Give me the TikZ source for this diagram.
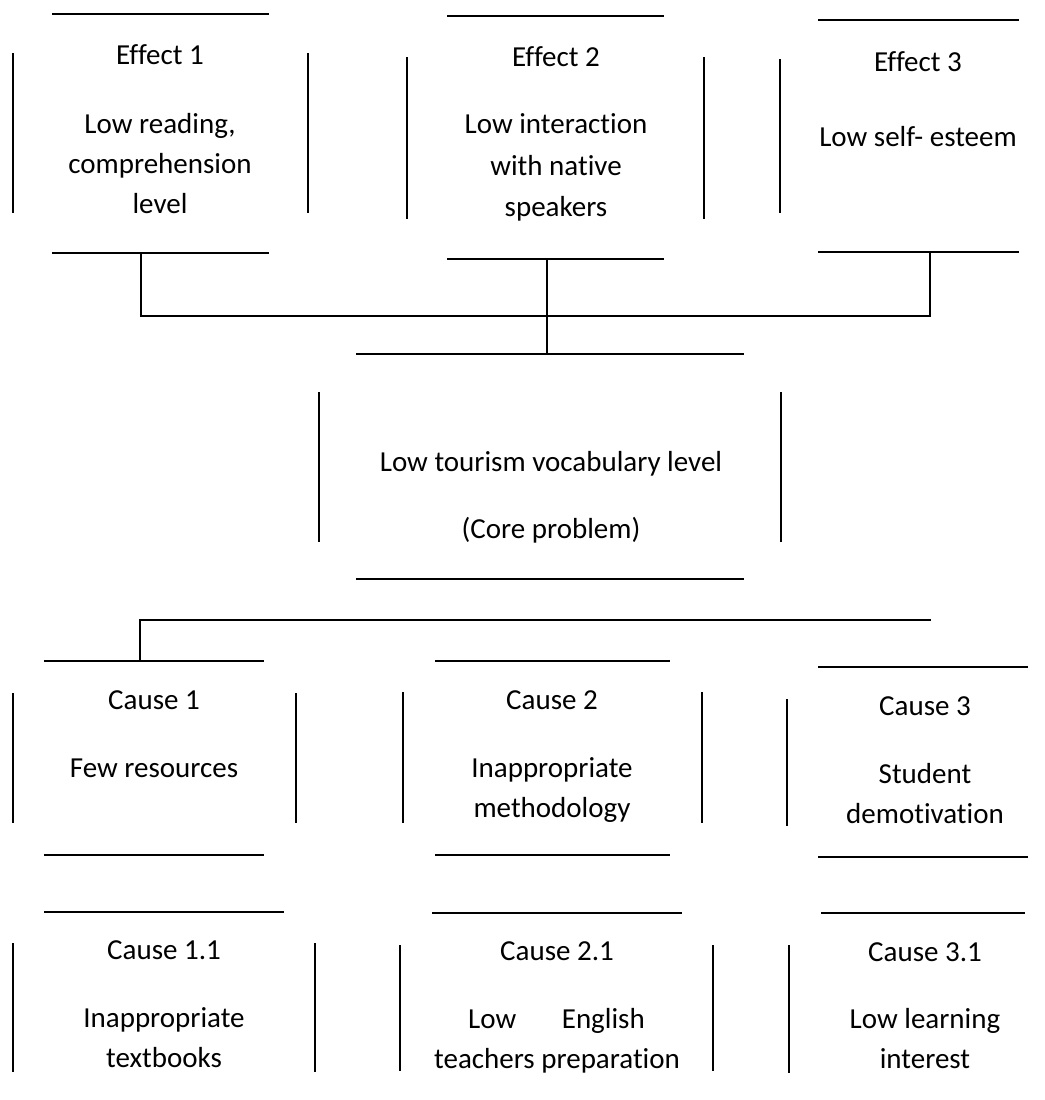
\documentclass[tikz,border=0pt]{standalone}
\usepackage{fontspec}
\setmainfont{Carlito}[Ligatures={NoCommon,NoContextual}]
\tikzset{
  edge/.style={line width=1.6pt, black},
  link/.style={line width=2.2pt, black},
  txt/.style={inner sep=0pt, anchor=base, font=\fontsize{29}{40}\selectfont}
}
\begin{document}
\begin{tikzpicture}[x=1pt,y=-1pt]
\useasboundingbox (0,0) rectangle (1044,1100);

% ---------- Effect 1 ----------
\draw[edge] (52,14) -- (269,14);
\draw[edge] (13,53) -- (13,213);
\draw[edge] (308,53) -- (308,213);
\draw[edge] (52,253) -- (269,253);
\node[txt] (e1a) at (160,64) {Effect 1};
\node[txt] (e1b) at (160,133) {Low reading,};
\node[txt] (e1c) at (160,173) {comprehension};
\node[txt] (e1d) at (160,213) {level};
\coordinate (e1bot) at (141,253);

% ---------- Effect 2 ----------
\draw[edge] (447,16) -- (664,16);
\draw[edge] (407,57) -- (407,219);
\draw[edge] (704,57) -- (704,219);
\draw[edge] (447,259) -- (664,259);
\node[txt] (e2a) at (556,66) {Effect 2};
\node[txt] (e2b) at (556,133) {Low interaction};
\node[txt] (e2c) at (556,175) {with native};
\node[txt] (e2d) at (556,216) {speakers};
\coordinate (e2bot) at (547,259);

% ---------- Effect 3 ----------
\draw[edge] (818,20) -- (1019,20);
\draw[edge] (780,59) -- (780,213);
\draw[edge] (818,252) -- (1019,252);
\node[txt] (e3a) at (918,71) {Effect 3};
\node[txt] (e3b) at (918,146) {Low self- esteem};
\coordinate (e3bot) at (930,252);

% ---------- Core problem ----------
\draw[edge] (356,354) -- (744,354);
\draw[edge] (319,392) -- (319,542);
\draw[edge] (781,392) -- (781,542);
\draw[edge] (356,579) -- (744,579);
\node[txt] (corea) at (551,471) {Low tourism vocabulary level};
\node[txt] (coreb) at (551,538) {(Core problem)};
\coordinate (coretop) at (547,354);

% ---------- Cause 1 ----------
\draw[edge] (44,661) -- (264,661);
\draw[edge] (13,693) -- (13,823);
\draw[edge] (296,693) -- (296,823);
\draw[edge] (44,855) -- (264,855);
\node[txt] (c1a) at (154,709) {Cause 1};
\node[txt] (c1b) at (154,777) {Few resources};
\coordinate (c1top) at (140,661);

% ---------- Cause 2 ----------
\draw[edge] (435,661) -- (670,661);
\draw[edge] (403,692) -- (403,823);
\draw[edge] (702,692) -- (702,823);
\draw[edge] (435,855) -- (670,855);
\node[txt] (c2a) at (552,709) {Cause 2};
\node[txt] (c2b) at (552,777) {Inappropriate};
\node[txt] (c2c) at (552,817) {methodology};

% ---------- Cause 3 ----------
\draw[edge] (818,667) -- (1028,667);
\draw[edge] (787,699) -- (787,826);
\draw[edge] (818,857) -- (1028,857);
\node[txt] (c3a) at (925,715) {Cause 3};
\node[txt] (c3b) at (925,783) {Student};
\node[txt] (c3c) at (925,823) {demotivation};

% ---------- Cause 1.1 ----------
\draw[edge] (44,912) -- (284,912);
\draw[edge] (13,943) -- (13,1072);
\draw[edge] (315,943) -- (315,1072);
\node[txt] (c11a) at (164,959) {Cause 1.1};
\node[txt] (c11b) at (164,1027) {Inappropriate};
\node[txt] (c11c) at (164,1067) {textbooks};

% ---------- Cause 2.1 ----------
\draw[edge] (432,913) -- (682,913);
\draw[edge] (400,945) -- (400,1071);
\draw[edge] (713,945) -- (713,1071);
\node[txt] (c21a) at (557,960) {Cause 2.1};
\node[txt, anchor=base west] (c21b) at (468,1028) {Low};
\node[txt, anchor=base east] (c21c) at (645,1028) {English};
\node[txt] (c21d) at (557,1068) {teachers preparation};

% ---------- Cause 3.1 ----------
\draw[edge] (821,913) -- (1025,913);
\draw[edge] (789,945) -- (789,1073);
\node[txt] (c31a) at (925,961) {Cause 3.1};
\node[txt] (c31b) at (925,1028) {Low learning};
\node[txt] (c31c) at (925,1068) {interest};

% ---------- connectors ----------
\coordinate (effL) at (141,316);
\coordinate (effR) at (930,316);
\draw[link] (e1bot) -- (effL) -- (effR) -- (e3bot);
\draw[link] (e2bot) -- (coretop);
\coordinate (cauL) at (140,620);
\coordinate (cauR) at (931,620);
\draw[link] (c1top) -- (cauL) -- (cauR);
\end{tikzpicture}
\end{document}
